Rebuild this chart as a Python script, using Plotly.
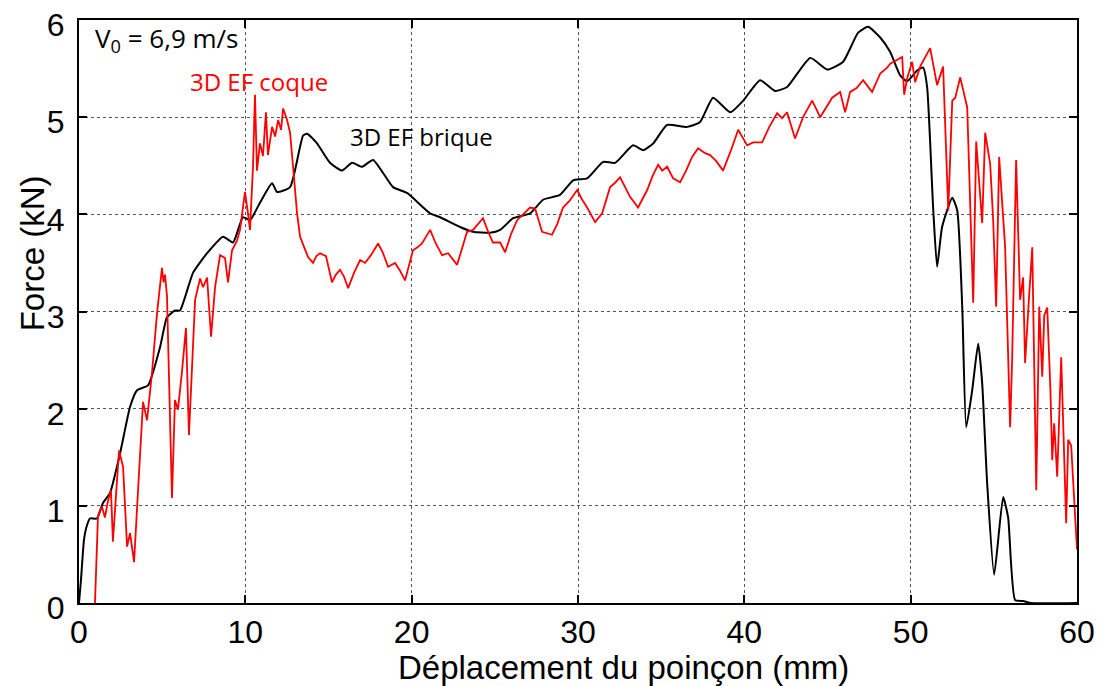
import plotly.graph_objects as go

# 3D EF brique (black)
brique_x = [0, 0.12, 0.3, 0.48, 0.66, 1.08, 1.44, 1.86, 2.47, 3.07, 3.49, 4.15, 4.87, 5.29, 5.77,
            6.07, 6.86, 7.70, 8.66, 9.26, 9.86, 10.28, 10.88, 11.61, 11.91, 12.69, 13.47, 13.71,
            14.31, 15.09, 15.81, 16.42, 17.02, 17.68, 18.88, 19.72, 21.11, 21.71, 22.91, 23.69,
            24.71, 25.32, 26.10, 27.12, 27.90, 28.92, 29.71, 30.55, 31.51, 32.23, 33.31, 33.91,
            34.52, 35.36, 36.56, 37.34, 38.12, 39.15, 39.93, 40.95, 41.85, 42.57, 43.96, 44.98,
            45.94, 46.84, 47.44, 48.17, 48.77, 49.37, 49.79, 50.39, 50.75, 50.99, 51.35, 51.59,
            51.89, 52.50, 52.80, 53.10, 53.34, 53.70, 54.06, 54.30, 54.60, 55.02, 55.56, 55.86,
            56.28, 56.77, 57.2, 60]
brique_y = [0, 0.24, 0.65, 0.80, 0.87, 0.87, 1.03, 1.13, 1.54, 2.02, 2.19, 2.24, 2.63, 2.94, 3.01,
            3.01, 3.40, 3.60, 3.77, 3.71, 3.97, 3.94, 4.12, 4.32, 4.23, 4.28, 4.81, 4.83,
            4.73, 4.53, 4.45, 4.53, 4.49, 4.56, 4.28, 4.22, 4.01, 3.97, 3.87, 3.82,
            3.81, 3.84, 3.96, 4.01, 4.15, 4.20, 4.35, 4.37, 4.54, 4.53, 4.71, 4.66,
            4.73, 4.92, 4.90, 4.95, 5.20, 5.05, 5.17, 5.38, 5.27, 5.31, 5.61, 5.49,
            5.57, 5.87, 5.93, 5.82, 5.67, 5.43, 5.37, 5.48, 5.51, 5.31, 4.07, 3.46,
            3.87, 4.17, 4.04, 3.05, 1.81, 2.19, 2.67, 2.26, 1.23, 0.29, 1.09, 0.88,
            0.03, 0.02, 0.0, 0]

# 3D EF coque (red)
coque_x = [0.96, 1.14, 1.26, 1.38, 1.56, 1.74, 1.92, 2.04, 2.22, 2.41, 2.65, 2.89, 3.07, 3.31, 3.55,
           3.85, 4.09, 4.39, 4.69, 4.99, 5.08, 5.17, 5.29, 5.59, 5.77, 5.95, 6.19, 6.43, 6.61,
           6.98, 7.28, 7.46, 7.70, 7.94, 8.18, 8.48, 8.78, 8.96, 9.20, 9.50, 9.68, 9.98, 10.16,
           10.28, 10.46, 10.58, 10.70, 10.88, 11.06, 11.24, 11.36, 11.61, 11.79, 11.97, 12.15,
           12.27, 12.51, 12.69, 12.87, 13.11, 13.29, 13.53, 13.77, 14.07, 14.27, 14.49, 14.85,
           15.21, 15.45, 15.69, 15.93, 16.18, 16.54, 16.90, 17.20, 17.55, 17.98, 18.28, 18.58,
           19.0, 19.30, 19.60, 20.08, 20.35, 20.62, 21.11, 21.45, 21.83, 22.19, 22.73, 23.03,
           23.33, 23.69, 24.29, 24.60, 24.89, 25.32, 25.62, 25.98, 26.34, 26.70, 27.12, 27.42,
           27.84, 28.44, 28.75, 29.10, 29.50, 29.95, 30.25, 30.55, 31.03, 31.45, 31.93, 32.20,
           32.53, 33.13, 33.61, 34.16, 34.50, 34.82, 35.06, 35.36, 35.72, 36.14, 36.50, 36.86,
           37.22, 37.64, 37.94, 38.30, 38.72, 39.20, 39.63, 40.17, 40.53, 41.07, 41.50, 41.97,
           42.27, 42.57, 43.05, 43.53, 44.08, 44.56, 45.28, 45.76, 46.06, 46.36, 46.75, 47.14,
           47.68, 48.17, 48.59, 48.77, 49.19, 49.49, 49.61, 49.79, 50.09, 50.27, 50.57, 51.17,
           51.59, 51.95, 52.26, 52.50, 52.68, 52.98, 53.40, 53.76, 53.94, 54.30, 54.48, 54.78,
           54.96, 55.14, 55.32, 55.50, 55.68, 55.98, 56.10, 56.34, 56.58, 56.76, 56.88, 57.10,
           57.31, 57.55, 57.73, 57.91, 58.03, 58.21, 58.40, 58.51, 58.63, 58.81, 59.05, 59.35,
           59.47, 59.65, 59.77, 60.0]
coque_y = [0, 0.89, 0.95, 0.99, 0.88, 1.05, 1.16, 0.63, 1.10, 1.57, 1.40, 0.58, 0.72, 0.42, 1.16,
           2.07, 1.88, 2.37, 2.98, 3.45, 3.30, 3.38, 3.16, 1.08, 2.09, 1.99, 2.38, 2.83, 1.73,
           3.12, 3.34, 3.25, 3.35, 2.74, 3.25, 3.58, 3.55, 3.30, 3.63, 3.73, 3.84, 4.23, 4.01,
           3.84, 4.49, 5.23, 4.45, 4.73, 4.60, 5.05, 4.61, 4.90, 4.80, 4.97, 4.87,
           5.09, 4.97, 4.84, 4.49, 4.01, 3.77, 3.66, 3.56, 3.50, 3.57, 3.60, 3.57,
           3.30, 3.38, 3.43, 3.36, 3.24, 3.40, 3.53, 3.50, 3.58, 3.70, 3.60, 3.46,
           3.50, 3.42, 3.32, 3.63, 3.66, 3.70, 3.84, 3.70, 3.58, 3.60, 3.48, 3.66,
           3.82, 3.84, 3.96, 3.82, 3.71, 3.71, 3.61, 3.80, 3.94, 4.00, 4.07, 4.06,
           3.82, 3.79, 3.90, 4.07, 4.14, 4.25, 4.15, 4.07, 3.92, 4.01, 4.28, 4.32,
           4.38, 4.18, 4.07, 4.25, 4.40, 4.51, 4.45, 4.49, 4.37, 4.33, 4.45, 4.59,
           4.68, 4.63, 4.61, 4.55, 4.45, 4.66, 4.87, 4.71, 4.74, 4.74, 4.90, 5.04,
           4.99, 5.05, 4.78, 5.00, 5.17, 5.00, 5.20, 5.26, 5.05, 5.26, 5.30, 5.38,
           5.26, 5.45, 5.51, 5.55, 5.59, 5.62, 5.23, 5.40, 5.57, 5.36, 5.52, 5.71,
           5.33, 5.52, 4.04, 5.17, 5.20, 5.41, 5.10, 3.09, 4.75, 3.91, 4.84, 4.52,
           3.94, 3.05, 4.59, 4.10, 3.66, 1.81, 2.50, 4.56, 3.12, 3.35, 2.47, 3.10,
           3.66, 1.16, 3.05, 2.33, 2.96, 3.04, 2.20, 1.47, 1.85, 1.30, 2.53, 0.82,
           1.68, 1.62, 1.27, 0.55]

x_ticks = [0, 10, 20, 30, 40, 50, 60]
y_ticks = [0, 1, 2, 3, 4, 5, 6]

fig = go.Figure()
fig.add_trace(go.Scatter(x=brique_x, y=brique_y, mode="lines", name="3D EF brique",
                         line=dict(color="black", width=2, shape="spline", smoothing=0.5)))
fig.add_trace(go.Scatter(x=coque_x, y=coque_y, mode="lines", name="3D EF coque",
                         line=dict(color="#ff0000", width=1.8)))

ann_font = dict(family="Open Sans", size=24)
fig.add_annotation(x=0.85, y=5.8, text="V<sub>0</sub> = 6,9 m/s", showarrow=False,
                   xanchor="left", font=dict(ann_font, size=26, color="black"))
fig.add_annotation(x=10.8, y=5.37, text="3D EF coque", showarrow=False,
                   font=dict(ann_font, color="#ff0000"))
fig.add_annotation(x=20.6, y=4.8, text="3D EF brique", showarrow=False,
                   font=dict(ann_font, color="black"))

label_font = dict(family="Liberation Sans", size=32, color="black")

# axis titles placed as annotations (they sit off-centre in the original)
fig.add_annotation(xref="paper", yref="paper", x=0.546, y=-0.111, showarrow=False,
                   xanchor="center", yanchor="middle",
                   text="Déplacement du poinçon (mm)", font=dict(label_font, size=33))
fig.add_annotation(xref="paper", yref="paper", x=-0.047, y=0.6, showarrow=False,
                   xanchor="center", yanchor="middle",
                   textangle=-90, text="Force (kN)", font=dict(label_font, size=33))

axis_style = dict(showline=True, linecolor="black", linewidth=2, mirror="ticks",
                  ticks="inside", ticklen=8, tickwidth=1.5, tickcolor="black",
                  showgrid=True, gridcolor="#555555", griddash="dot", gridwidth=1,
                  zeroline=False, automargin=False, tickfont=label_font,
                  ticklabeloverflow="allow")

fig.update_xaxes(range=[0, 60], tickvals=x_ticks, **axis_style)
fig.update_yaxes(range=[0, 6], tickvals=y_ticks, ticklabelstandoff=6,
                 ticklabelshift=5, **axis_style)

# page body adds an 8px offset, margins compensate for it
fig.update_layout(width=1104, height=686, showlegend=False,
                  margin=dict(l=71, r=35, t=12, b=91),
                  plot_bgcolor="white", paper_bgcolor="white")

fig.write_html("out.html")
